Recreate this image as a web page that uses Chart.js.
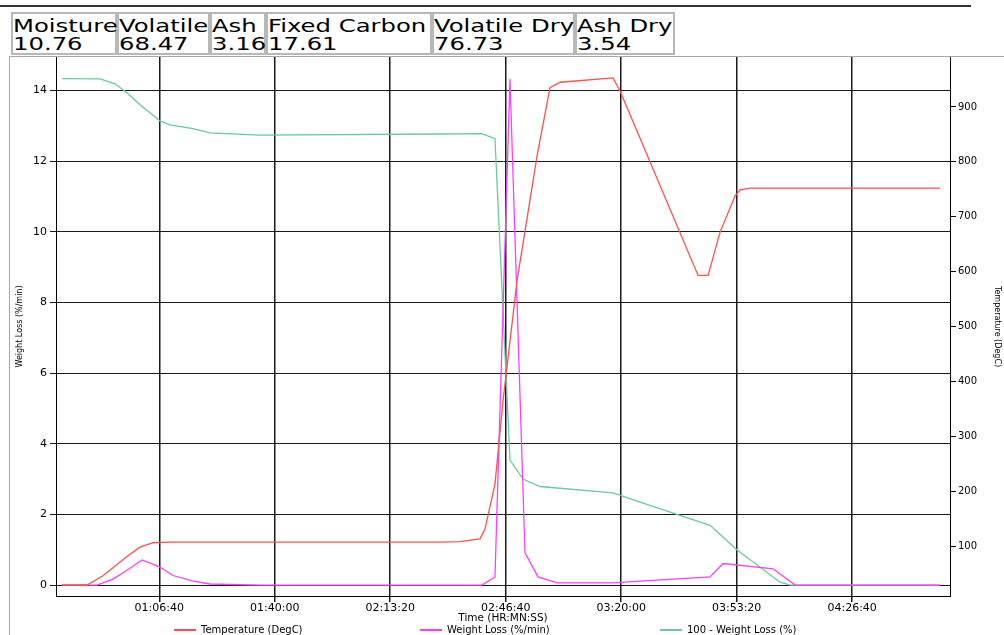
<!DOCTYPE html>
<html>
<head>
<meta charset="utf-8">
<title>Proximate analysis</title>
<script src="https://cdn.jsdelivr.net/npm/chart.js@4.4.1/dist/chart.umd.min.js"></script>
<style>
    html, body { margin: 0; padding: 0; background: #fff; }
    body { width: 1004px; height: 635px; position: relative; overflow: hidden; font-family: "DejaVu Sans", Verdana, sans-serif; }
    #topRule { position: absolute; left: 0; top: 5px; width: 971px; height: 2px; background: #333; }
    .cell { position: absolute; top: 12px; height: 43px; box-sizing: border-box; border: 2px solid #b8b8b8; background: #fff; }
    .cell .txt { position: absolute; left: 0; top: 3px; font-size: 18px; line-height: 18px; white-space: nowrap; color: #000; transform: scaleX(1.35); transform-origin: 0 0; }
    #panelTop { position: absolute; left: 10px; top: 56px; width: 994px; height: 1px; background: #a8a8a8; }
    #panelLeft { position: absolute; left: 9px; top: 56px; width: 1px; height: 579px; background: #a8a8a8; }
    #chart { position: absolute; left: 10px; top: 57px; width: 994px; height: 578px; }
    .leg { position: absolute; top: 624px; height: 12px; font-size: 10px; line-height: 12px; color: #000; white-space: nowrap; }
    .leg i { position: absolute; left: 0; top: 5px; width: 22px; height: 0; border-top: 2px solid; }
    .leg span { position: absolute; left: 27px; top: 0; }
</style>
</head>
<body>
<div id="topRule"></div>
<div id="header"></div>
<div id="panelTop"></div>
<div id="panelLeft"></div>
<canvas id="chart" width="994" height="578"></canvas>
<div id="legend"></div>
<script>
// resumen del analisis
const analysisNames = ['Moisture', 'Volatile', 'Ash', 'Fixed Carbon', 'Volatile Dry', 'Ash Dry'];
const analysisValues = ['10.76', '68.47', '3.16', '17.61', '76.73', '3.54'];
const cellLefts = [11, 117, 210, 266, 432, 575];
const cellWidths = [106, 93, 56, 166, 143, 100];

// tiempo en segundos
const tempTime = [2315, 2748, 3025, 3441, 3666, 3891, 4185, 5744, 8862, 9208, 9555, 9641, 9814, 9953, 10196, 10542, 10767, 10941, 11859, 11980, 12327, 13332, 13505, 13713, 13973, 14060, 14233, 17524];
const tempValues = [29, 29, 46, 81, 98, 106, 107, 107, 107, 108, 113, 131, 213, 364, 583, 810, 935, 945, 953, 929, 843, 593, 593, 672, 738, 749, 752, 752];

const lossTime = [2315, 2921, 3198, 3441, 3701, 4012, 4237, 4584, 4878, 5744, 9589, 9814, 10074, 10334, 10560, 10888, 11859, 12327, 13540, 13765, 14631, 14753, 15013, 17524];
const lossValues = [0, 0, 0.17, 0.42, 0.71, 0.51, 0.27, 0.11, 0.03, 0, 0, 0.23, 14.33, 0.91, 0.23, 0.06, 0.06, 0.11, 0.23, 0.61, 0.46, 0.31, 0, 0];

const residTime = [2315, 2973, 3233, 3441, 3666, 4012, 4185, 4584, 4878, 5744, 8862, 9589, 9814, 10074, 10300, 10594, 11859, 12327, 13540, 14008, 14753, 14926, 17524];
const residValues = [14.34, 14.33, 14.19, 13.94, 13.6, 13.14, 13.03, 12.92, 12.8, 12.74, 12.77, 12.78, 12.64, 3.54, 3.0, 2.79, 2.61, 2.35, 1.69, 0.99, 0.08, 0, 0];

const seriesLabels = ['Temperature (DegC)', 'Weight Loss (%/min)', '100 - Weight Loss (%)'];
const seriesColors = ['#ff4f4f', '#ff3dff', '#66cc99'];

const timeTicks = [4000, 6000, 8000, 10000, 12000, 14000, 16000];
const lossTicks = [0, 2, 4, 6, 8, 10, 12, 14];
const tempTicks = [100, 200, 300, 400, 500, 600, 700, 800, 900];

function hms(sec) {
    const h = Math.floor(sec / 3600);
    const m = Math.floor((sec % 3600) / 60);
    const s = Math.round(sec % 60);
    return [h, m, s].map(v => String(v).padStart(2, '0')).join(':');
}

function puntos(xs, ys) {
    return xs.map((x, i) => ({ x: x, y: ys[i] }));
}

// cabecera
document.getElementById('header').innerHTML = analysisNames.map((nombre, i) => `
    <div class="cell" style="left:${cellLefts[i]}px;width:${cellWidths[i]}px">
        <div class="txt">${nombre}<br>${analysisValues[i]}</div>
    </div>
`).join('');

const tickFont = { family: 'DejaVu Sans', size: 11 };

const chart = new Chart(document.getElementById('chart').getContext('2d'), {
    type: 'line',
    data: {
        datasets: [{
            label: seriesLabels[0],
            data: puntos(tempTime, tempValues),
            yAxisID: 'y1',
            borderColor: seriesColors[0],
            borderWidth: 1.3,
            pointRadius: 0,
            tension: 0
        }, {
            label: seriesLabels[1],
            data: puntos(lossTime, lossValues),
            yAxisID: 'y',
            borderColor: seriesColors[1],
            borderWidth: 1.3,
            pointRadius: 0,
            tension: 0
        }, {
            label: seriesLabels[2],
            data: puntos(residTime, residValues),
            yAxisID: 'y',
            borderColor: seriesColors[2],
            borderWidth: 1.3,
            pointRadius: 0,
            tension: 0
        }]
    },
    options: {
        responsive: false,
        animation: false,
        devicePixelRatio: 1,
        layout: { padding: 0 },
        plugins: {
            legend: { display: false },
            tooltip: { enabled: false }
        },
        scales: {
            x: {
                type: 'linear',
                min: 2211,
                max: 17695,
                afterBuildTicks: scale => { scale.ticks = timeTicks.map(v => ({ value: v })); },
                afterFit: scale => { scale.height = 39; scale.paddingLeft = 0; scale.paddingRight = 0; },
                ticks: {
                    autoSkip: false,
                    maxRotation: 0,
                    padding: 0,
                    color: '#000',
                    font: tickFont,
                    callback: v => hms(v)
                },
                grid: { color: '#1a1a1a', lineWidth: 1.5, tickLength: 6 },
                border: { display: true, color: '#000', width: 1 },
                title: {
                    display: true,
                    text: 'Time (HR:MN:SS)',
                    color: '#000',
                    font: { family: 'DejaVu Sans', size: 10.5 },
                    padding: { top: 0, bottom: 10 }
                }
            },
            y: {
                position: 'left',
                min: -0.31,
                max: 14.95,
                afterBuildTicks: scale => { scale.ticks = lossTicks.map(v => ({ value: v })); },
                afterFit: scale => { scale.width = 46; scale.paddingTop = 0; scale.paddingBottom = 0; },
                ticks: { padding: 3, color: '#000', font: tickFont },
                grid: { color: '#1a1a1a', lineWidth: 1, tickLength: 6 },
                border: { display: true, color: '#000', width: 1 },
                title: {
                    display: true,
                    text: 'Weight Loss (%/min)',
                    color: '#000',
                    font: { family: 'DejaVu Sans', size: 8 },
                    padding: { top: 5, bottom: 0 }
                }
            },
            y1: {
                position: 'right',
                min: 9,
                max: 991,
                afterBuildTicks: scale => { scale.ticks = tempTicks.map(v => ({ value: v })); },
                afterFit: scale => { scale.width = 54; scale.paddingTop = 0; scale.paddingBottom = 0; },
                ticks: { padding: 2, color: '#000', font: { family: 'DejaVu Sans', size: 10 } },
                grid: { drawOnChartArea: false, color: '#000', tickLength: 6 },
                border: { display: true, color: '#000', width: 1 },
                title: {
                    display: true,
                    text: 'Temperature (DegC)',
                    color: '#000',
                    font: { family: 'DejaVu Sans', size: 8 },
                    padding: { top: 2, bottom: 0 }
                }
            }
        }
    }
});

// leyenda
const legendLefts = [174, 420, 660];
document.getElementById('legend').innerHTML = chart.data.datasets.map((ds, i) => `
    <div class="leg" style="left:${legendLefts[i]}px">
        <i style="border-color:${ds.borderColor}"></i><span>${ds.label}</span>
    </div>
`).join('');
</script>
</body>
</html>
